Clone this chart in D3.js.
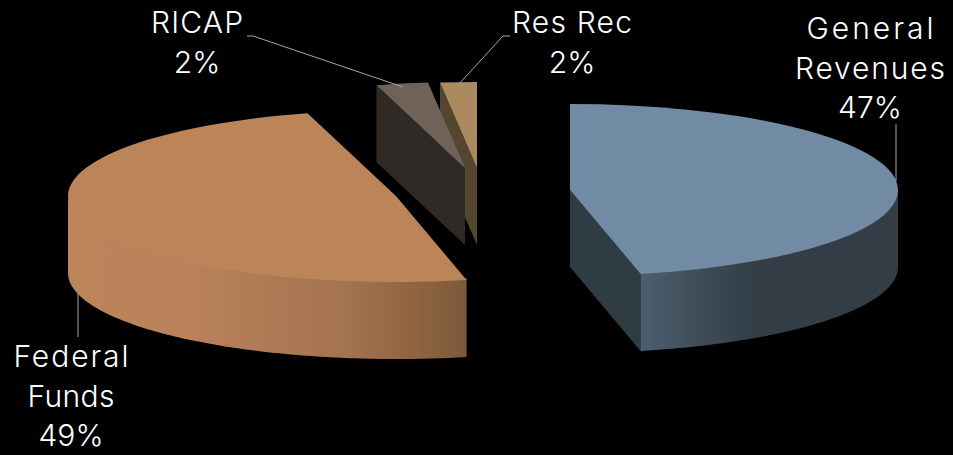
<!DOCTYPE html>
<html>
<head>
<meta charset="utf-8">
<script src="https://cdn.jsdelivr.net/npm/d3@7/dist/d3.min.js"></script>
<style>
html,body{margin:0;padding:0;background:#000;overflow:hidden}
svg{display:block}
text{font-family:Inter,"Open Sans",sans-serif;font-weight:300;fill:#fff;font-size:30px;text-anchor:middle}
</style>
</head>
<body>
<svg id="chart" width="953" height="455"></svg>
<script>
// Data, clockwise from 12 o'clock
const categories = ["General Revenues", "Federal Funds", "RICAP", "Res Rec"];
const sliceValues = [46.55, 49.1, 2.55, 1.8];
const percentLabels = ["47%", "49%", "2%", "2%"];

// Colours
const topColors = ["#728ba4", "#bc8459", "#6f6259", "#ab8a60"];
const faceColors = ["#303c44", "#8a5f40", "#2f2a26", "#54462f"];
const wallStops = [
  [[0, "#4b5f70"], [0.2, "#414f5b"], [0.45, "#323d45"], [1, "#323d45"]],
  [[0, "#bc8459"], [0.3, "#b9825a"], [0.7, "#a47350"], [0.85, "#926643"], [1, "#7c5a3c"]],
  [[0, "#2f2a26"], [1, "#2f2a26"]],
  [[0, "#54462f"], [1, "#54462f"]]
];

// Layout
const W = 953, H = 455;
const rx = 328, ry = 86, depth = 77;
const centers = [[570, 190], [396, 196], [465, 168], [477, 168]];
const labelLayout = [
  {x: 870, lines: ["General", "Revenues"], widths: [127, 150], y: 39},
  {x: 71,  lines: ["Federal", "Funds"], widths: [115, 87], y: 367},
  {x: 197, lines: ["RICAP"], widths: [92], y: 33},
  {x: 572, lines: ["Res Rec"], widths: [120], y: 33}
];
const leaders = [
  [[896, 124], [896, 181]],
  [[78, 293], [78, 337]],
  [[247, 36], [253, 36], [403, 87]],
  [[510, 36], [503, 36], [458, 85]]
];
const lineGap = 39.5;

const svg = d3.select("#chart");
svg.append("rect").attr("width", W).attr("height", H).attr("fill", "#000");
const defs = svg.append("defs");

const pie = d3.pie().sort(null).startAngle(0).endAngle(2 * Math.PI);
const arcs = pie(sliceValues);
const arcGen = d3.arc().innerRadius(0).outerRadius(rx);

const px = (c, a) => c[0] + rx * Math.sin(a);
const py = (c, a) => c[1] - ry * Math.cos(a);
const line = d3.line();

// Draw order: back slivers first, then big slices
const order = [3, 2, 1, 0];
order.forEach(i => {
  const d = arcs[i], c = centers[i];
  const g = svg.append("g").attr("class", "slice").attr("data-name", categories[i]);

  // radial cut faces that look towards the viewer
  [[d.startAngle, Math.sin(d.startAngle) < -1e-6], [d.endAngle, Math.sin(d.endAngle) > 1e-6]]
    .filter(e => e[1])
    .forEach(([a]) => {
      const pts = [[c[0], c[1]], [px(c, a), py(c, a)], [px(c, a), py(c, a) + depth], [c[0], c[1] + depth]];
      g.append("path").attr("d", line(pts) + "Z").attr("fill", faceColors[i]);
    });

  // outer wall: only the front half of the rim; starts a little under the top surface to hide the seam
  const a0 = Math.max(d.startAngle, Math.PI / 2);
  const a1 = Math.min(d.endAngle, 3 * Math.PI / 2);
  if (a1 > a0) {
    const rim = d3.range(0, 121).map(k => a0 + (a1 - a0) * k / 120);
    const upper = rim.map(a => [px(c, a), py(c, a) - 2]);
    const lower = rim.slice().reverse().map(a => [px(c, a), py(c, a) + depth]);
    const xs = upper.map(p => p[0]);
    const id = "wall" + i;
    const lg = defs.append("linearGradient").attr("id", id)
      .attr("gradientUnits", "userSpaceOnUse")
      .attr("x1", d3.min(xs)).attr("x2", d3.max(xs)).attr("y1", 0).attr("y2", 0);
    wallStops[i].forEach(s => lg.append("stop").attr("offset", s[0]).attr("stop-color", s[1]));
    g.append("path").attr("d", line(upper.concat(lower)) + "Z").attr("fill", `url(#${id})`);
  }

  // top surface
  g.append("path")
    .attr("d", arcGen(d))
    .attr("transform", `translate(${c[0]},${c[1]}) scale(1,${ry / rx})`)
    .attr("fill", topColors[i]);
});

// Leader lines
leaders.forEach(l => {
  svg.append("path").attr("d", line(l)).attr("fill", "none")
    .attr("stroke", "#a6a6a6").attr("stroke-width", 1);
});

// Labels, one text element per line; name lines are stretched to the width measured in the reference
categories.forEach((name, i) => {
  const L = labelLayout[i];
  L.lines.forEach((s, k) => {
    svg.append("text")
      .attr("x", L.x).attr("y", L.y + k * lineGap)
      .attr("textLength", L.widths[k]).attr("lengthAdjust", "spacing")
      .text(s);
  });
  svg.append("text")
    .attr("x", L.x).attr("y", L.y + L.lines.length * lineGap)
    .text(percentLabels[i]);
});
</script>
</body>
</html>
